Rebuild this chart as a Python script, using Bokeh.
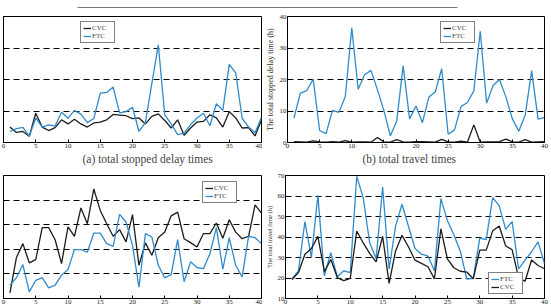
from bokeh.plotting import figure
from bokeh.layouts import column, row
from bokeh.models import (Legend, LegendItem, Title, SingleIntervalTicker,
                          CustomJSTickFormatter, Range1d)
from bokeh.embed import file_html
from bokeh.resources import INLINE

x = list(range(1, 41))

# (a) total stopped delay times (top-left)
a_cvc = [4.9, 3.2, 3.5, 2.0, 9.3, 4.9, 3.8, 4.7, 7.2, 5.9, 7.4, 5.9, 4.9, 6.2, 6.5, 7.2, 8.9, 8.7, 8.5, 7.6,
         7.8, 5.9, 8.3, 9.1, 7.0, 4.6, 7.2, 2.3, 4.6, 6.5, 6.7, 8.8, 7.8, 4.9, 9.8, 7.8, 4.6, 4.7, 2.1, 7.2]
a_ftc = [3.5, 4.4, 4.8, 2.0, 7.8, 4.9, 5.6, 5.2, 9.6, 7.7, 10.2, 9.0, 6.3, 7.6, 15.7, 15.9, 17.6, 9.4, 9.8, 11.2,
         3.5, 6.3, 18.8, 31.0, 8.8, 5.9, 2.5, 3.0, 5.7, 7.8, 9.3, 5.3, 12.3, 10.2, 24.8, 22.1, 7.7, 4.9, 3.1, 8.0]

# top-right: total stopped delay time (h)
b_cvc = [0.3, 0.2, 0.1, 0.5, 0.2, 0.1, 0.3, 0.1, 0.6, 0.1, 0.2, 0.2, 0.1, 1.6, 0.2, 0.1, 0.9, 0.2, 0.1, 0.3,
         0.3, 0.2, 0.1, 1.0, 0.2, 0.1, 0.4, 0.1, 5.6, 0.1, 0.2, 0.2, 0.3, 1.1, 0.2, 0.1, 0.9, 0.1, 0.2, 0.3]
b_ftc = [7.7, 15.7, 16.5, 20.1, 3.8, 2.8, 10.2, 9.6, 14.6, 36.4, 16.9, 21.5, 22.9, 16.7, 10.2, 2.1, 6.8, 24.4, 7.5, 11.6,
         6.3, 14.4, 16.1, 23.4, 2.6, 4.0, 11.4, 12.7, 16.4, 35.3, 12.5, 18.1, 20.0, 14.4, 7.5, 3.6, 8.7, 22.8, 7.4, 8.0]

# bottom-left
c_cvc = [2.3, 16.6, 22.3, 14.5, 15.8, 28.8, 28.8, 23.9, 14.2, 29.1, 25.3, 36.8, 30.4, 44.5, 35.8, 30.4, 25.3, 28.0, 23.0, 34.1,
         13.5, 22.6, 17.6, 24.7, 27.0, 33.6, 35.1, 24.3, 22.7, 20.9, 26.4, 26.4, 30.7, 24.5, 32.0, 27.0, 24.3, 25.3, 38.1, 34.7]
c_ftc = [5.4, 8.4, 13.8, 2.7, 7.4, 8.5, 4.3, 5.4, 9.5, 11.8, 19.9, 19.9, 18.8, 26.6, 26.6, 22.3, 21.2, 34.2, 31.1, 21.6,
         4.6, 26.4, 25.0, 13.5, 8.4, 9.7, 23.9, 6.8, 14.9, 12.6, 12.1, 18.2, 28.8, 11.9, 24.7, 13.5, 8.8, 25.3, 24.7, 22.3]

# bottom-right: total travel time (h)
d_ftc = [19.5, 23.5, 47.5, 30.0, 60.3, 21.1, 32.4, 20.6, 23.5, 22.6, 69.6, 59.2, 37.2, 29.5, 64.4, 24.4, 45.3, 56.0, 45.1, 34.4,
         31.6, 30.7, 23.5, 58.7, 48.0, 41.1, 33.1, 19.5, 19.8, 39.5, 38.7, 59.2, 55.3, 43.7, 47.5, 24.4, 28.7, 32.8, 37.6, 27.1]
d_cvc = [19.3, 22.6, 31.6, 34.4, 40.3, 23.1, 29.0, 20.2, 18.7, 19.8, 42.9, 37.1, 32.0, 27.9, 40.3, 17.4, 33.2, 40.8, 35.1, 28.7,
         27.1, 25.5, 19.6, 44.0, 29.3, 25.0, 23.3, 22.9, 19.6, 33.6, 33.6, 43.0, 45.4, 35.7, 33.8, 20.1, 18.4, 28.8, 26.1, 24.5]

BLUE = "#2f8bcc"
BLACK = "#1c1c1c"
SERIF = "Liberation Serif"


def make(width, height, yr, ytick, borders, show_ylabels, ylabel=None, ylabel_size="8px",
         series=(), legend_loc=(0, 0), caption=None, caption_offset=0):
    p = figure(width=width, height=height, output_backend="svg", toolbar_location=None,
               x_range=Range1d(0, 40), y_range=Range1d(*yr))
    p.min_border_left, p.min_border_right, p.min_border_top, p.min_border_bottom = borders
    p.outline_line_color = "black"
    p.outline_line_alpha = 1
    p.background_fill_color = "white"
    p.border_fill_color = "white"
    p.xgrid.grid_line_color = None
    p.ygrid.grid_line_color = "black"
    p.ygrid.grid_line_dash = "6 4"
    p.ygrid.grid_line_width = 1
    p.xaxis.ticker = SingleIntervalTicker(interval=5)
    p.yaxis.ticker = SingleIntervalTicker(interval=ytick)
    for ax in (p.xaxis[0], p.yaxis[0]):
        ax.major_tick_in = 3
        ax.major_tick_out = 0
        ax.minor_tick_in = 0
        ax.minor_tick_out = 0
        ax.axis_line_color = "black"
        ax.major_label_text_font = SERIF
        ax.major_label_text_font_size = "7px"
        ax.major_label_standoff = 1
        ax.major_label_text_color = "#222222"
    if not show_ylabels:
        p.yaxis.formatter = CustomJSTickFormatter(code="return ''")
        p.yaxis.major_label_standoff = 0
    if ylabel:
        p.yaxis.axis_label = ylabel
        p.yaxis.axis_label_text_font = SERIF
        p.yaxis.axis_label_text_font_size = ylabel_size
        p.yaxis.axis_label_text_font_style = "normal"
        p.yaxis.axis_label_standoff = 2
        p.yaxis.axis_label_text_color = "#333333"
    items = []
    for name, ys, color in series:
        r = p.line(x, ys, line_color=color, line_width=1.3)
        items.append(LegendItem(label=name, renderers=[r]))
    leg = Legend(items=items, location=legend_loc, label_text_font=SERIF,
                 label_text_font_size="7px", glyph_width=8, glyph_height=8,
                 label_height=8, label_standoff=1, spacing=0, padding=2, margin=0,
                 border_line_color="black", border_line_width=1,
                 background_fill_color="white", background_fill_alpha=1)
    p.add_layout(leg, "center")
    if caption:
        t = Title(text=caption, align="left", offset=caption_offset, text_font=SERIF,
                  text_font_size="11.5px", text_font_style="normal", standoff=1)
        p.add_layout(t, "below")
    return p


header = figure(width=551, height=14, output_backend="svg", toolbar_location=None,
                x_range=Range1d(0, 551), y_range=Range1d(0, 14), min_border=0)
header.axis.visible = False
header.grid.visible = False
header.outline_line_color = None
header.segment(x0=[77], y0=[7], x1=[457], y1=[7], line_color="#777777", line_width=1)

tl = make(262, 156, (0, 40), 10, (3, 1, 2, 28), False,
          series=[("CVC", a_cvc, BLACK), ("FTC", a_ftc, BLUE)],
          legend_loc=(77, 99), caption="(a) total stopped delay times", caption_offset=79)
tr = make(289, 156, (0, 40), 10, (20, 7, 2, 28), True,
          ylabel="The total stopped delay time (h)", ylabel_size="8px",
          series=[("CVC", b_cvc, BLACK), ("FTC", b_ftc, BLUE)],
          legend_loc=(153, 99), caption="(b) total travel times", caption_offset=75)
bl = make(262, 137, (0, 50), 10, (3, 1, 5, 9), False,
          series=[("CVC", c_cvc, BLACK), ("FTC", c_ftc, BLUE)],
          legend_loc=(199, 95))
br = make(289, 137, (10, 70), 10, (20, 7, 4, 9), True,
          ylabel="The total travel time (h)", ylabel_size="6.5px",
          series=[("FTC", d_ftc, BLUE), ("CVC", d_cvc, BLACK)],
          legend_loc=(203, 4))

layout = column(header, row(tl, tr), row(bl, br))
open("out.html", "w").write(file_html(layout, INLINE))
